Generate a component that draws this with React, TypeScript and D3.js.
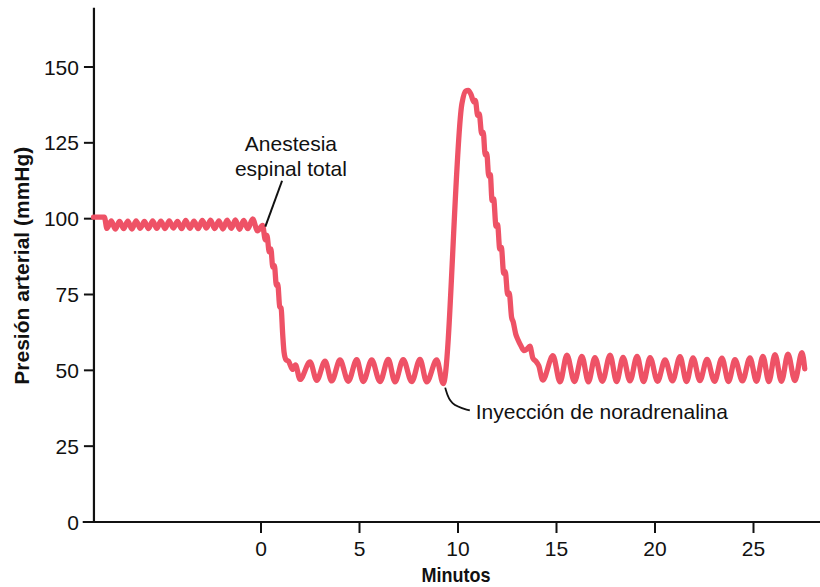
import React from "react";
import * as d3 from "d3";

type P = [number, number];

const xTicks = [0, 5, 10, 15, 20, 25];
const yTicks = [0, 25, 50, 75, 100, 125, 150];
const xTitle = "Minutos";
const yTitle = "Presión arterial (mmHg)";
const anesthesiaLabel = ["Anestesia", "espinal total"];
const injectionLabel = "Inyección de noradrenalina";

// minute, mmHg
const baselineTrace: P[] = [
  [-8.5, 100.5], [-7.95, 100.5], [-7.82, 96.8], [-7.6, 99.3], [-7.4, 96.6], [-7.18, 99.1],
  [-6.97, 96.7], [-6.76, 99.2], [-6.55, 96.6], [-6.34, 99.3], [-6.13, 96.8], [-5.92, 99.1],
  [-5.71, 96.7], [-5.5, 99.3], [-5.29, 96.8], [-5.08, 99.2], [-4.87, 96.7], [-4.66, 99.3],
  [-4.45, 96.9], [-4.24, 99.1], [-4.03, 96.7], [-3.82, 99.4], [-3.61, 96.8], [-3.4, 99.2],
  [-3.19, 96.7], [-2.98, 99.4], [-2.77, 96.9], [-2.56, 99.5], [-2.35, 96.7], [-2.14, 99.3],
  [-1.93, 96.6], [-1.72, 99.5], [-1.51, 96.8], [-1.3, 99.6], [-1.09, 96.5], [-0.88, 99.4],
  [-0.67, 96.7], [-0.42, 99.9], [-0.18, 96.0], [0.08, 97.8],
];
const dropTrace: P[] = [
  [0.22, 93], [0.3, 94.5], [0.42, 89], [0.5, 90], [0.6, 84], [0.68, 84.5], [0.78, 78],
  [0.85, 78.5], [0.95, 71], [1.02, 70.5], [1.1, 62], [1.17, 56], [1.27, 53.5], [1.4, 53],
];
const lowTrace: P[] = [
  [1.6, 50.3], [1.75, 51.8], [1.98, 47.0], [2.49, 52.8], [2.83, 46.7], [3.25, 53.0],
  [3.59, 46.5], [4.01, 53.4], [4.43, 46.4], [4.86, 53.5], [5.19, 46.3], [5.62, 53.4],
  [6.04, 46.3], [6.46, 53.6], [6.8, 46.2], [7.22, 53.5], [7.65, 46.3], [8.07, 53.6],
  [8.41, 46.2], [8.92, 53.4], [9.25, 45.6],
];
const surgeTrace: P[] = [
  [10.2, 138], [10.38, 142], [10.52, 142.3], [10.66, 141], [10.8, 138.5], [10.88, 139],
  [11.0, 134], [11.08, 134.5], [11.2, 128], [11.28, 128.5], [11.38, 121], [11.46, 121.5],
  [11.56, 114], [11.64, 114.5], [11.73, 106], [11.81, 106.5], [11.93, 97.5], [12.01, 98],
  [12.12, 90], [12.2, 90.5], [12.32, 82], [12.4, 82.5], [12.52, 75], [12.6, 75.5],
  [12.72, 67.5], [12.8, 66], [12.93, 62], [13.05, 60], [13.2, 58], [13.35, 56.5],
  [13.5, 57], [13.65, 58], [13.8, 54], [13.95, 53], [14.1, 51.5], [14.3, 46.8],
];
const recoveryTrace: P[] = [
  [14.82, 54.8], [15.18, 46.2], [15.53, 55.0], [15.91, 46.3], [16.29, 54.6], [16.62, 46.2],
  [16.95, 54.2], [17.33, 46.4], [17.72, 55.0], [18.05, 46.3], [18.38, 54.3], [18.73, 46.5],
  [19.09, 54.6], [19.42, 46.3], [19.75, 54.2], [20.13, 46.4], [20.51, 53.4], [20.89, 46.5],
  [21.27, 54.5], [21.6, 46.3], [21.93, 54.1], [22.28, 46.6], [22.64, 53.6], [23.02, 46.4],
  [23.4, 54.0], [23.73, 46.3], [24.06, 53.5], [24.44, 46.5], [24.82, 54.1], [25.15, 46.4],
  [25.48, 54.6], [25.78, 46.3], [26.09, 55.2], [26.42, 46.4], [26.75, 55.3], [27.1, 46.6],
  [27.46, 55.8], [27.6, 50.5],
];

// annotation anchors (minute, mmHg)
const anesthesiaPointer: P[] = [[1.07, 112.5], [0.22, 97.4]];
const anesthesiaText: P[] = [[1.52, 122.3], [1.52, 114.0]];
const injectionPointer: P[] = [[9.35, 44.3], [9.6, 38.5], [10.6, 36.8]];
const injectionText: P = [10.9, 33.8];

export default function App() {
  const W = 820;
  const H = 587;
  const x = d3.scaleLinear().domain([0, 25]).range([261, 753.5]);
  const y = d3.scaleLinear().domain([0, 150]).range([522, 67]);
  const trace = [...baselineTrace, ...dropTrace, ...lowTrace, ...surgeTrace, ...recoveryTrace];
  const line = d3
    .line<P>()
    .x((d) => x(d[0]))
    .y((d) => y(d[1]))
    .curve(d3.curveMonotoneX);
  const pointer = d3.line<P>().x((d) => x(d[0])).y((d) => y(d[1]));
  const curvedPointer = d3
    .line<P>()
    .x((d) => x(d[0]))
    .y((d) => y(d[1]))
    .curve(d3.curveBundle.beta(1));

  const font = "'Liberation Sans', Arial, Helvetica, sans-serif";
  const x0 = x(-9.05);
  const yAxisX = x(-8.48);
  const yTop = y(169.5);
  const tickFont = 21;
  const labelFont = 21;

  return (
    <svg
      width={W}
      height={H}
      style={{ position: "absolute", left: 0, top: 0, background: "#fff" }}
      fontFamily={font}
    >
      {/* axes */}
      <line x1={x0} x2={W} y1={y(0)} y2={y(0)} stroke="#111" strokeWidth={2.2} />
      <line x1={yAxisX} x2={yAxisX} y1={yTop} y2={y(0)} stroke="#111" strokeWidth={2.2} />
      {yTicks.map((t) => (
        <g key={"y" + t}>
          <line x1={yAxisX - 10} x2={yAxisX} y1={y(t)} y2={y(t)} stroke="#111" strokeWidth={2} />
          <text x={yAxisX - 15} y={y(t)} dy="0.36em" textAnchor="end" fontSize={tickFont} fill="#111">
            {t}
          </text>
        </g>
      ))}
      {xTicks.map((t) => (
        <g key={"x" + t}>
          <line x1={x(t)} x2={x(t)} y1={y(0)} y2={y(0) + 11} stroke="#111" strokeWidth={2} />
          <text x={x(t)} y={y(0) + 34} textAnchor="middle" fontSize={tickFont} fill="#111">
            {t}
          </text>
        </g>
      ))}
      <text
        transform={`translate(${x(10) - 2}, 582) scale(0.9, 1)`}
        textAnchor="middle"
        fontSize={20}
        fontWeight="bold"
        fill="#111"
      >
        {xTitle}
      </text>
      <text
        transform={`translate(29, ${y(84.5)}) rotate(-90)`}
        textAnchor="middle"
        fontSize={21}
        fontWeight="bold"
        fill="#111"
      >
        {yTitle}
      </text>

      {/* trace */}
      <path
        d={line(trace) || ""}
        fill="none"
        stroke="#ee5266"
        strokeWidth={5.3}
        strokeLinejoin="round"
        strokeLinecap="round"
      />

      {/* annotations */}
      <path d={pointer(anesthesiaPointer) || ""} stroke="#111" strokeWidth={2} fill="none" />
      {anesthesiaLabel.map((s, i) => (
        <text
          key={s}
          x={x(anesthesiaText[i][0])}
          y={y(anesthesiaText[i][1])}
          textAnchor="middle"
          fontSize={labelFont}
          fill="#111"
        >
          {s}
        </text>
      ))}
      <path d={curvedPointer(injectionPointer) || ""} stroke="#111" strokeWidth={1.8} fill="none" />
      <text x={x(injectionText[0])} y={y(injectionText[1])} fontSize={labelFont} fill="#111">
        {injectionLabel}
      </text>
    </svg>
  );
}
